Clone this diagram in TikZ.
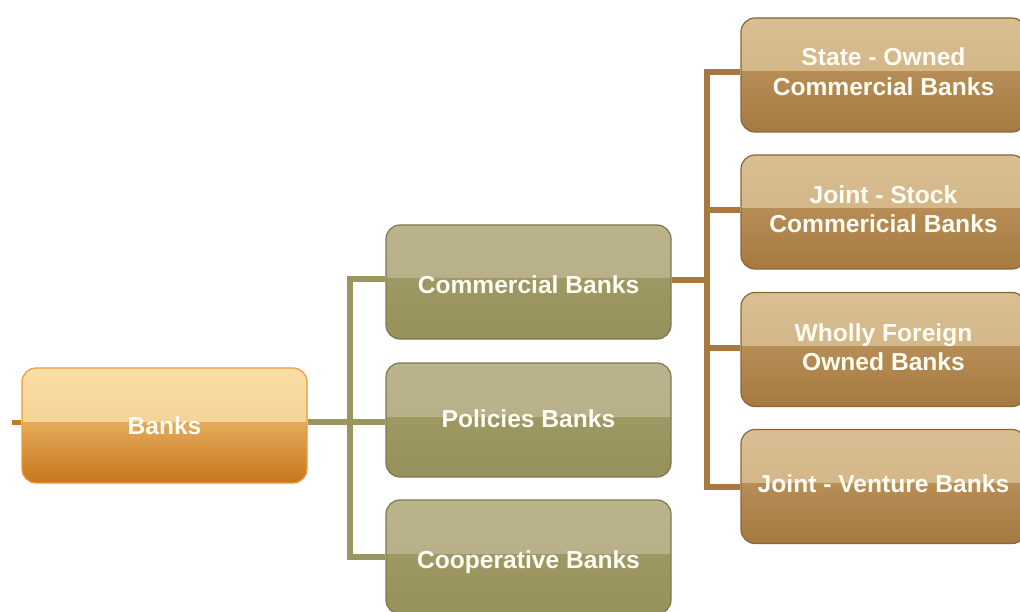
\documentclass[tikz,border=0pt]{standalone}
\usepackage{fontspec}
\setmainfont{Liberation Sans}
\usetikzlibrary{backgrounds}
\definecolor{orTopA}{HTML}{FADFA6}
\definecolor{orTopB}{HTML}{EFC585}
\definecolor{orBotA}{HTML}{E5AA5C}
\definecolor{orBotB}{HTML}{C6781A}
\definecolor{orBorder}{HTML}{EE9A3A}
\definecolor{orLine}{HTML}{C8791E}
\definecolor{grTopA}{HTML}{BAB38C}
\definecolor{grTopB}{HTML}{B5AD84}
\definecolor{grBotA}{HTML}{9E9864}
\definecolor{grBotB}{HTML}{96905A}
\definecolor{grBorder}{HTML}{7E7852}
\definecolor{grLine}{HTML}{9A945E}
\definecolor{brTopA}{HTML}{D8BE92}
\definecolor{brTopB}{HTML}{CFB07F}
\definecolor{brBotA}{HTML}{B68D55}
\definecolor{brBotB}{HTML}{A57A41}
\definecolor{brBorder}{HTML}{8C6636}
\definecolor{brLine}{HTML}{A8783E}
\definecolor{txtWhite}{HTML}{FFFCF4}
\tikzset{
  glossbox/.style n args={5}{
    rounded corners=14, minimum width=285, minimum height=114,
    draw=#5, line width=1.2, inner sep=0,
    path picture={
      \fill[sharp corners, top color=#1, bottom color=#2]
        (path picture bounding box.north west) rectangle ([yshift=3pt]path picture bounding box.east);
      \fill[sharp corners, top color=#3, bottom color=#4]
        ([yshift=3pt]path picture bounding box.west) rectangle (path picture bounding box.south east);
    }},
  orbox/.style={glossbox={orTopA}{orTopB}{orBotA}{orBotB}{orBorder}, minimum height=115},
  grbox/.style={glossbox={grTopA}{grTopB}{grBotA}{grBotB}{grBorder}},
  brbox/.style={glossbox={brTopA}{brTopB}{brBotA}{brBotB}{brBorder}},
  labtext/.style={text=txtWhite, align=center, inner sep=0,
    font=\bfseries\fontsize{24.6}{29.5}\selectfont},
  txt/.style 2 args={label={[labtext, yshift=#1]center:#2}},
  gline/.style={draw=grLine, line width=6},
  bline/.style={draw=brLine, line width=6},
  oline/.style={draw=orLine, line width=5},
}
\begin{document}
\begin{tikzpicture}[x=1pt,y=-1pt]
\useasboundingbox (0,0) rectangle (1020,612);

\node[orbox, txt={0pt}{Banks}] (banks) at (164.5,425.5) {};

\node[grbox, txt={-3pt}{Commercial Banks}] (commercial) at (528.5,282) {};
\node[grbox, txt={1pt}{Policies Banks}] (policies) at (528.5,420) {};
\node[grbox, txt={-5pt}{Cooperative Banks}] (cooperative) at (528.5,557) {};

\node[brbox, txt={3.5pt}{State - Owned\\Commercial Banks}] (state) at (883.5,75) {};
\node[brbox, txt={3pt}{Joint - Stock\\Commericial Banks}] (joint) at (883.5,212) {};
\node[brbox, txt={2.5pt}{Wholly Foreign\\Owned Banks}] (wholly) at (883.5,349.5) {};
\node[brbox, txt={3pt}{Joint - Venture Banks}] (venture) at (883.5,486.5) {};

\coordinate (lead) at (12,422);
\coordinate (gv) at (350,0);
\coordinate (bv) at (707,0);

\begin{scope}[on background layer]
  \fill[white] (0,0) rectangle (1020,612);
  \draw[oline] (lead) -- (lead -| banks.west);
  \draw[gline] (lead -| banks.east) -- (lead -| policies.west);
  \draw[gline] ([yshift=3pt]commercial.west) -| (gv |- cooperative.west) -- (cooperative.west);
  \draw[bline] ([yshift=2pt]commercial.east) -- ([yshift=2pt]bv |- commercial.east);
  \draw[bline] ([yshift=3pt]state.west) -| (bv |- venture.west) -- (venture.west);
  \draw[bline] ([yshift=2pt]bv |- joint.west) -- ([yshift=2pt]joint.west);
  \draw[bline] ([yshift=2pt]bv |- wholly.west) -- ([yshift=2pt]wholly.west);
\end{scope}
\end{tikzpicture}
\end{document}
